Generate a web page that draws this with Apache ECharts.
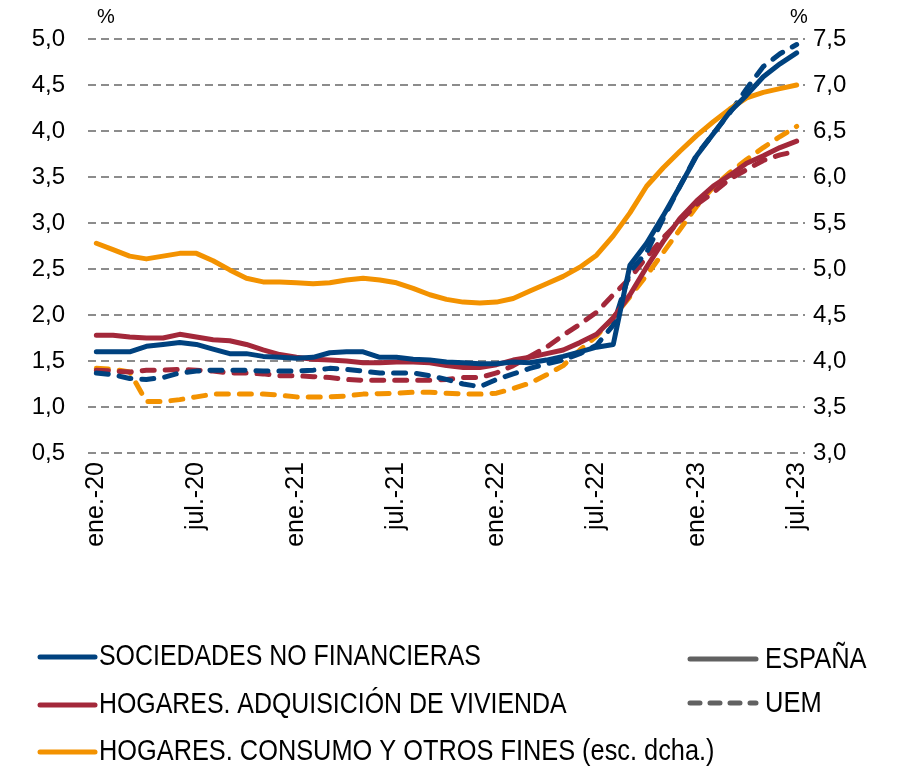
<!DOCTYPE html>
<html>
<head>
<meta charset="utf-8">
<script src="https://cdn.jsdelivr.net/npm/echarts@6/dist/echarts.min.js"></script>
<style>
html,body{margin:0;padding:0;background:#fff;}
#chart{width:897px;height:771px;}
</style>
</head>
<body>
<div id="chart"></div>
<script>
const categories = [
 'ene.-20','feb.-20','mar.-20','abr.-20','may.-20','jun.-20','jul.-20','ago.-20','sep.-20','oct.-20','nov.-20','dic.-20',
 'ene.-21','feb.-21','mar.-21','abr.-21','may.-21','jun.-21','jul.-21','ago.-21','sep.-21','oct.-21','nov.-21','dic.-21',
 'ene.-22','feb.-22','mar.-22','abr.-22','may.-22','jun.-22','jul.-22','ago.-22','sep.-22','oct.-22','nov.-22','dic.-22',
 'ene.-23','feb.-23','mar.-23','abr.-23','may.-23','jun.-23','jul.-23'
];
// Sociedades no financieras (left axis)
const snfES  = [1.60,1.60,1.60,1.66,1.68,1.70,1.68,1.63,1.58,1.58,1.55,1.54,1.53,1.54,1.59,1.60,1.60,1.54,1.54,1.52,1.51,1.49,1.48,1.47,1.47,1.49,1.48,1.51,1.55,1.60,1.65,1.68,2.54,2.78,3.08,3.40,3.73,3.97,4.21,4.39,4.59,4.73,4.85];
const snfUEM = [1.37,1.35,1.31,1.30,1.32,1.37,1.39,1.40,1.40,1.40,1.39,1.39,1.39,1.40,1.42,1.41,1.39,1.37,1.37,1.37,1.34,1.30,1.25,1.22,1.30,1.36,1.42,1.47,1.51,1.58,1.67,1.89,2.47,2.68,3.05,3.40,3.74,3.97,4.20,4.46,4.70,4.84,4.94];
// Hogares. Adquisición de vivienda (left axis)
const vivES  = [1.78,1.78,1.76,1.75,1.75,1.79,1.76,1.73,1.72,1.68,1.62,1.57,1.54,1.52,1.51,1.50,1.48,1.48,1.49,1.49,1.48,1.45,1.43,1.43,1.46,1.51,1.54,1.58,1.62,1.70,1.79,1.97,2.22,2.52,2.80,3.05,3.24,3.40,3.52,3.65,3.73,3.82,3.89];
const vivUEM = [1.40,1.39,1.38,1.40,1.40,1.41,1.40,1.39,1.37,1.37,1.36,1.34,1.34,1.33,1.32,1.30,1.29,1.29,1.29,1.29,1.29,1.30,1.32,1.32,1.37,1.45,1.55,1.65,1.78,1.90,2.03,2.22,2.40,2.63,2.84,3.02,3.20,3.33,3.48,3.58,3.68,3.74,3.78];
// Hogares. Consumo y otros fines (right axis)
const consES  = [5.28,5.21,5.14,5.11,5.14,5.17,5.17,5.09,4.99,4.90,4.86,4.86,4.85,4.84,4.85,4.88,4.90,4.88,4.85,4.79,4.72,4.67,4.64,4.63,4.64,4.68,4.76,4.84,4.92,5.02,5.15,5.36,5.61,5.90,6.10,6.28,6.45,6.60,6.74,6.86,6.92,6.96,7.00];
const consUEM = [3.92,3.91,3.88,3.56,3.56,3.58,3.61,3.64,3.64,3.64,3.64,3.63,3.61,3.61,3.61,3.62,3.64,3.645,3.65,3.66,3.66,3.65,3.64,3.64,3.65,3.70,3.76,3.85,3.95,4.12,4.27,4.47,4.70,4.93,5.18,5.43,5.68,5.89,6.05,6.19,6.32,6.44,6.55];

const legendNames = ['SOCIEDADES NO FINANCIERAS','HOGARES. ADQUISICIÓN DE VIVIENDA','HOGARES. CONSUMO Y OTROS FINES (esc. dcha.)'];
const countryNames = ['ESPAÑA','UEM'];

const BLUE = '#00427f', RED = '#a3283a', ORANGE = '#f39200';
const FONT = '"Liberation Sans", Arial, Helvetica, sans-serif';
const fmt = v => v.toFixed(1).replace('.', ',');

function line(name, data, color, dashed, yIdx) {
  return {
    name, type: 'line', data, yAxisIndex: yIdx, symbol: 'none', smooth: false,
    lineStyle: { color, width: 5, type: dashed ? [12, 11] : 'solid', cap: 'round', join: 'round' },
    itemStyle: { color }, emphasis: { disabled: true }
  };
}

const chart = echarts.init(document.getElementById('chart'));
const legendText = (x, y, t, sx, fs) => ({
  type: 'text', x, y, scaleX: sx,
  style: { text: t, font: fs + 'px ' + FONT, fill: '#000', textVerticalAlign: 'middle' }
});
const legendLine = (x1, x2, y, color, dash, w) => ({
  type: 'line', shape: { x1, y1: y, x2, y2: y },
  style: { stroke: color, lineWidth: w, lineCap: 'round', lineDash: dash || null }
});

chart.setOption({
  animation: false,
  grid: { left: 88, right: 92, top: 39, bottom: 318 },
  xAxis: {
    type: 'category', data: categories, boundaryGap: true,
    axisLine: { show: false }, axisTick: { show: false },
    axisLabel: { interval: 5, rotate: 90, fontSize: 25, color: '#000', margin: 9, fontFamily: FONT },
    splitLine: { show: false }
  },
  yAxis: [
    {
      type: 'value', min: 0.5, max: 5.0, interval: 0.5, position: 'left',
      axisLine: { show: false }, axisTick: { show: false },
      axisLabel: { formatter: fmt, fontSize: 24, color: '#000', margin: 23, fontFamily: FONT },
      splitLine: { show: true, lineStyle: { color: '#8c8c8c', width: 2, type: [8, 5] } }
    },
    {
      type: 'value', min: 3.0, max: 7.5, interval: 0.5, position: 'right',
      axisLine: { show: false }, axisTick: { show: false },
      axisLabel: { formatter: fmt, fontSize: 24, color: '#000', margin: 8, fontFamily: FONT },
      splitLine: { show: false }
    }
  ],
  series: [
    line('consUEM', consUEM, ORANGE, true, 1),
    line('vivUEM', vivUEM, RED, true, 0),
    line('snfUEM', snfUEM, BLUE, true, 0),
    line('consES', consES, ORANGE, false, 1),
    line('vivES', vivES, RED, false, 0),
    line('snfES', snfES, BLUE, false, 0)
  ],
  graphic: [
    { type: 'text', x: 97, y: 17, style: { text: '%', font: '20px ' + FONT, fill: '#000', textVerticalAlign: 'middle' } },
    { type: 'text', x: 790, y: 17, style: { text: '%', font: '20px ' + FONT, fill: '#000', textVerticalAlign: 'middle' } },
    legendLine(40, 95, 657, BLUE, null, 5),
    legendLine(40, 95, 705, RED, null, 5),
    legendLine(40, 95, 752, ORANGE, null, 5),
    legendText(99, 657, legendNames[0], 0.83, 30),
    legendText(99, 705, legendNames[1], 0.83, 30),
    legendText(99, 752, legendNames[2], 0.845, 30),
    legendLine(690, 756, 659, '#616161', null, 5),
    legendLine(690, 756, 703, '#616161', [10, 10], 5),
    legendText(765, 660, countryNames[0], 0.85, 30),
    legendText(765, 704, countryNames[1], 0.85, 30)
  ]
});
</script>
</body>
</html>
